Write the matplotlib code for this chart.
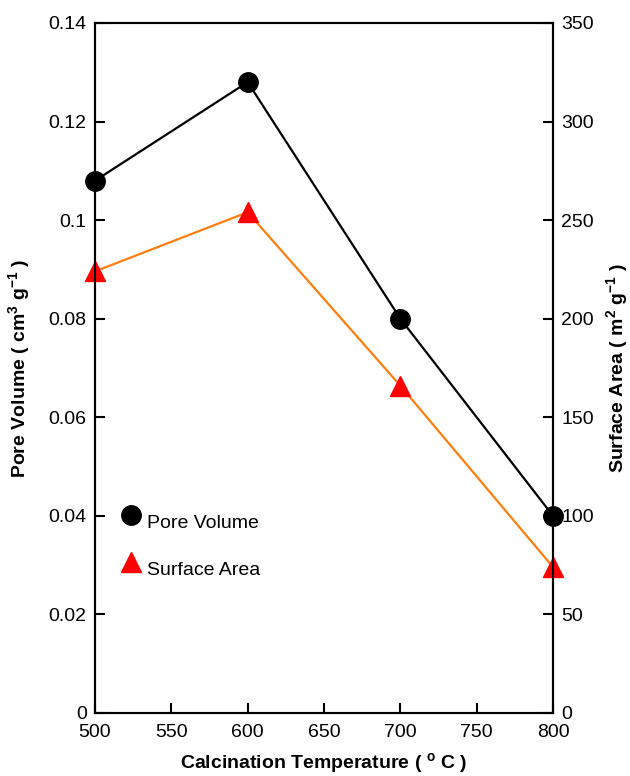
import matplotlib
matplotlib.use("Agg")
import matplotlib.pyplot as plt
from matplotlib.ticker import FuncFormatter, MultipleLocator
from matplotlib.lines import Line2D

plt.rcParams['font.family'] = ['Liberation Sans', 'DejaVu Sans']

temperature = [500, 600, 700, 800]
pore_volume = [0.108, 0.128, 0.080, 0.040]
surface_area = [224, 254, 166, 74]

fig = plt.figure(figsize=(6.3, 7.76), dpi=100)
ax = fig.add_axes([0.1508, 0.0812, 0.8778 - 0.1508, 0.9704 - 0.0812])
ax2 = ax.twinx()

ax2.plot(temperature, surface_area, color='#ff7f0e', lw=1.6, marker='^',
         markersize=14, markerfacecolor='red', markeredgecolor='red',
         clip_on=False, zorder=3)
ax.plot(temperature, pore_volume, color='black', lw=1.6, marker='o',
        markersize=14, clip_on=False, zorder=3)
ax.set_zorder(ax2.get_zorder() + 1)
ax.patch.set_visible(False)

ax.set_xlim(500, 800)
ax.set_ylim(0, 0.14)
ax2.set_ylim(0, 350)
ax.xaxis.set_major_locator(MultipleLocator(50))
ax.yaxis.set_major_locator(MultipleLocator(0.02))
ax2.yaxis.set_major_locator(MultipleLocator(50))
ax.yaxis.set_major_formatter(FuncFormatter(lambda v, p: f"{v:g}"))

for a in (ax, ax2):
    for s in a.spines.values():
        s.set_linewidth(1.5)
    a.tick_params(direction='in', length=7, width=1.5, labelsize=14, pad=6)
ax.tick_params(axis='x', pad=8)

ax.set_xlabel('Calcination Temperature ( $\\mathregular{^o}$ C )', fontsize=14,
              fontweight='bold', labelpad=7)
ax.set_ylabel('Pore Volume ( cm$\\mathregular{^3}$ g$\\mathregular{^{-1}}$ )', fontsize=14,
              fontweight='bold', labelpad=12)
ax2.set_ylabel('Surface Area ( m$\\mathregular{^2}$ g$\\mathregular{^{-1}}$ )', fontsize=14,
               fontweight='bold', labelpad=7)

h1 = Line2D([], [], ls='none', marker='o', color='black', markersize=14)
h2 = Line2D([], [], ls='none', marker='^', color='red', markersize=14)
leg = ax.legend([h1, h2], ['Pore Volume', 'Surface Area'], loc='center left',
                bbox_to_anchor=(0.02, 0.25), frameon=False, fontsize=14,
                handlelength=1.0, handletextpad=0.3, labelspacing=1.5, numpoints=1)
for t in leg.get_texts():
    t.set_va('center_baseline')

fig.savefig('out.png', dpi=100)
